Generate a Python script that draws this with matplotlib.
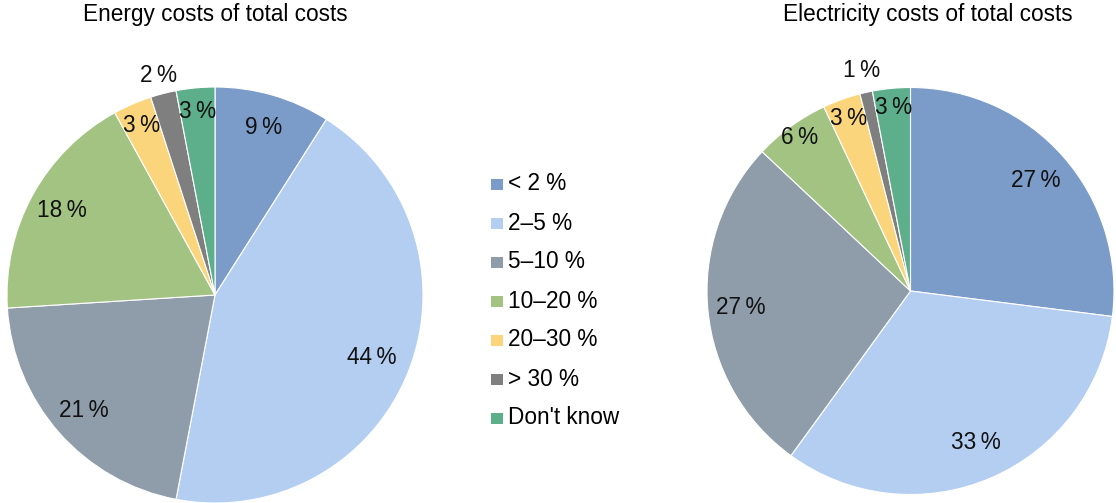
import numpy as np
import matplotlib
matplotlib.use("Agg")
import matplotlib.pyplot as plt
from matplotlib.patches import Rectangle

plt.rcParams['font.family'] = ['Liberation Sans', 'DejaVu Sans']

categories = ['< 2 %', '2–5 %', '5–10 %', '10–20 %', '20–30 %', '> 30 %', "Don't know"]
energy_values = [9, 44, 21, 18, 3, 2, 3]
electricity_values = [27, 33, 27, 6, 3, 1, 3]
titles = ['Energy costs of total costs', 'Electricity costs of total costs']

colors = ['#7b9cc9', '#b4cef2', '#8f9daa', '#a3c383', '#fad57b', '#7f7f7f', '#5daf8b']
energy_label_dist = [0.84, 0.81, 0.84, 0.84, 0.89, 1.09, 0.885]
elec_label_dist = [0.82, 0.81, 0.84, 0.93, 0.90, 1.11, 0.905]

W, H = 1116, 503
fig = plt.figure(figsize=(W / 100, H / 100), dpi=100)


def pie_axes(cx, cy, r):
    # cx, cy, r in pixels (cy from top)
    ax = fig.add_axes([(cx - r) / W, (H - cy - r) / H, 2 * r / W, 2 * r / H])
    ax.set_xlim(-1, 1)
    ax.set_ylim(-1, 1)
    ax.axis('off')
    return ax


def draw_pie(ax, values, dists):
    wedges, _ = ax.pie(values, colors=colors, startangle=90, counterclock=False,
                       radius=1, center=(0, 0), frame=False,
                       wedgeprops=dict(edgecolor='white', linewidth=0.8))
    ax.set_xlim(-1, 1)
    ax.set_ylim(-1, 1)
    ax.set_aspect('auto')
    for w, v, d in zip(wedges, values, dists):
        ang = np.deg2rad((w.theta1 + w.theta2) / 2)
        ax.text(d * np.cos(ang), d * np.sin(ang), f'{v}\u2009%',
                ha='center', va='center', fontsize=16.3, color='#111111')


ax1 = pie_axes(215, 295, 208)
draw_pie(ax1, energy_values, energy_label_dist)
ax2 = pie_axes(910.5, 291, 203.5)
draw_pie(ax2, electricity_values, elec_label_dist)

fig.text(215 / W, 1 - 14 / H, titles[0], ha='center', va='center', fontsize=16.3)
fig.text(928 / W, 1 - 15 / H, titles[1], ha='center', va='center', fontsize=16.3)

# legend
y0, dy = 184, 39
for i, (cat, col) in enumerate(zip(categories, colors)):
    y = y0 + i * dy
    fig.patches.append(Rectangle(((491) / W, (H - y - 6) / H), 11.5 / W, 11.5 / H,
                                 transform=fig.transFigure, facecolor=col,
                                 edgecolor='none'))
    fig.text(508 / W, 1 - y / H, cat, ha='left', va='center', fontsize=16.3)

fig.savefig('out.png', dpi=100)
